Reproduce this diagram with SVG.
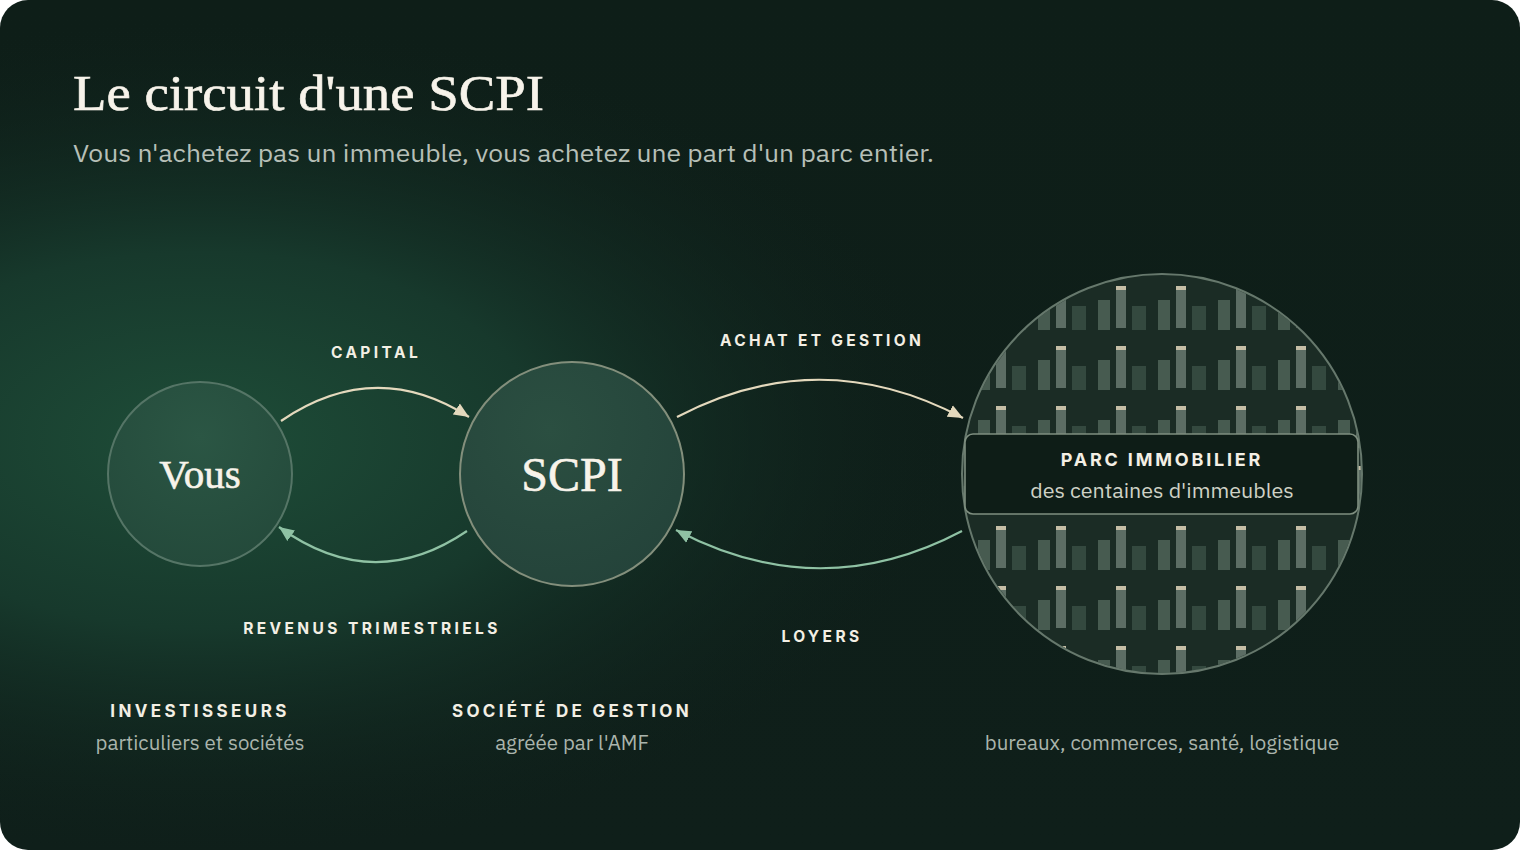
<svg xmlns="http://www.w3.org/2000/svg" width="1520" height="850" viewBox="0 0 1520 850">
<defs>
<style>
.cap{font-family:Inter,"Liberation Sans",sans-serif;font-weight:700;fill:#f3efe4;text-anchor:middle}
.sub{font-family:"IBM Plex Sans",Roboto,"Liberation Sans",sans-serif;fill:#aab4ac;text-anchor:middle;font-size:20.5px}
.serif{font-family:"Liberation Serif","DejaVu Serif",serif;fill:#f7f3ea;stroke:#f7f3ea;stroke-width:0.6}
.flow-out{fill:none;stroke:#e4d9bd;stroke-width:2.2}
.flow-in{fill:none;stroke:#8fc2a4;stroke-width:2.2}
</style>
<linearGradient id="bg" x1="0" y1="0" x2="0" y2="1">
<stop offset="0" stop-color="#0e1e18"/>
<stop offset="1" stop-color="#0f1f1a"/>
</linearGradient>
<radialGradient id="glow" cx="200" cy="440" r="760" gradientUnits="userSpaceOnUse" gradientTransform="translate(200 440) scale(1 0.55) translate(-200 -440)">
<stop offset="0" stop-color="#1e4d38"/>
<stop offset="0.45" stop-color="#17392c"/>
<stop offset="1" stop-color="#0f211b" stop-opacity="0"/>
</radialGradient>
<radialGradient id="vousFill" cx="0.5" cy="0.3" r="0.7">
<stop offset="0" stop-color="#2b5644"/>
<stop offset="1" stop-color="#244a3b"/>
</radialGradient>
<radialGradient id="scpiFill" cx="0.4" cy="0.3" r="0.75">
<stop offset="0" stop-color="#2b4f41"/>
<stop offset="1" stop-color="#24433a"/>
</radialGradient>
<pattern id="bldg" patternUnits="userSpaceOnUse" x="1098" y="272" width="60" height="60">
<rect x="0" y="28" width="12" height="30" fill="#475b50"/>
<rect x="18" y="14" width="10" height="42" fill="#5c6d64"/>
<rect x="18" y="14" width="10" height="4" fill="#c5bea6"/>
<rect x="34" y="34" width="14" height="24" fill="#34493f"/>
</pattern>
<clipPath id="parcClip"><circle cx="1162" cy="474" r="199"/></clipPath>
<marker id="ahOut" markerUnits="userSpaceOnUse" markerWidth="16" markerHeight="14" refX="15" refY="6.5" orient="auto" viewBox="0 0 16 13">
<path d="M0,0 L15,6.5 L0,13 z" fill="#e4d9bd"/>
</marker>
<marker id="ahIn" markerUnits="userSpaceOnUse" markerWidth="16" markerHeight="14" refX="15" refY="6.5" orient="auto" viewBox="0 0 16 13">
<path d="M0,0 L15,6.5 L0,13 z" fill="#8fc2a4"/>
</marker>
</defs>

<rect width="1520" height="850" fill="#ffffff"/>
<rect x="0" y="0" width="1520" height="850" rx="28" fill="url(#bg)"/>
<rect x="0" y="0" width="1520" height="850" rx="28" fill="url(#glow)"/>

<g id="title">
<text class="serif" x="73" y="110" font-size="50" textLength="471" lengthAdjust="spacingAndGlyphs">Le circuit d'une SCPI</text>
<text x="73" y="162" font-family="'IBM Plex Sans',Roboto,'Liberation Sans',sans-serif" font-size="25" fill="#b6bfb7" textLength="861" lengthAdjust="spacingAndGlyphs">Vous n'achetez pas un immeuble, vous achetez une part d'un parc entier.</text>
</g>

<g id="connectors">
<path class="flow-out" d="M281,421 Q375,357 469,417" marker-end="url(#ahOut)"/>
<path class="flow-in" d="M467,531 Q373,595 279,527" marker-end="url(#ahIn)"/>
<path class="flow-out" d="M677,417 Q820,342 963,418" marker-end="url(#ahOut)"/>
<path class="flow-in" d="M962,531 Q820,606 676,530" marker-end="url(#ahIn)"/>
<text class="cap" x="376" y="358" font-size="15.5" letter-spacing="3.4">CAPITAL</text>
<text class="cap" x="372" y="634" font-size="15.5" letter-spacing="3.4">REVENUS TRIMESTRIELS</text>
<text class="cap" x="822" y="346" font-size="15.5" letter-spacing="3.3">ACHAT ET GESTION</text>
<text class="cap" x="822" y="642" font-size="15.5" letter-spacing="3.4">LOYERS</text>
</g>

<g id="node-vous">
<circle cx="200" cy="474" r="92" fill="url(#vousFill)" stroke="#557566" stroke-width="2"/>
<text class="serif" x="200" y="488" font-size="41" text-anchor="middle">Vous</text>
<text class="cap" x="200" y="717" font-size="17" letter-spacing="3.4">INVESTISSEURS</text>
<text class="sub" x="200" y="750">particuliers et sociétés</text>
</g>

<g id="node-scpi">
<circle cx="572" cy="474" r="112" fill="url(#scpiFill)" stroke="#838f7c" stroke-width="2"/>
<text class="serif" x="572" y="491" font-size="48" text-anchor="middle">SCPI</text>
<text class="cap" x="572" y="717" font-size="17" letter-spacing="3.3">SOCIÉTÉ DE GESTION</text>
<text class="sub" x="572" y="750">agréée par l'AMF</text>
</g>

<g id="node-parc">
<circle cx="1162" cy="474" r="200" fill="#1b2c25"/>
<rect x="960" y="270" width="404" height="408" fill="url(#bldg)" clip-path="url(#parcClip)"/>
<circle cx="1162" cy="474" r="200" fill="none" stroke="#66786c" stroke-width="2"/>
<rect x="965" y="434" width="393" height="80" rx="8" fill="#0e1d17" stroke="#7f8f80" stroke-width="1.6"/>
<text class="cap" x="1162" y="466" font-size="18" letter-spacing="2.8">PARC IMMOBILIER</text>
<text x="1162" y="498" font-family="'IBM Plex Sans',Roboto,'Liberation Sans',sans-serif" font-size="21.5" fill="#cfd2c6" text-anchor="middle">des centaines d'immeubles</text>
<text class="sub" x="1162" y="750">bureaux, commerces, santé, logistique</text>
</g>
</svg>
